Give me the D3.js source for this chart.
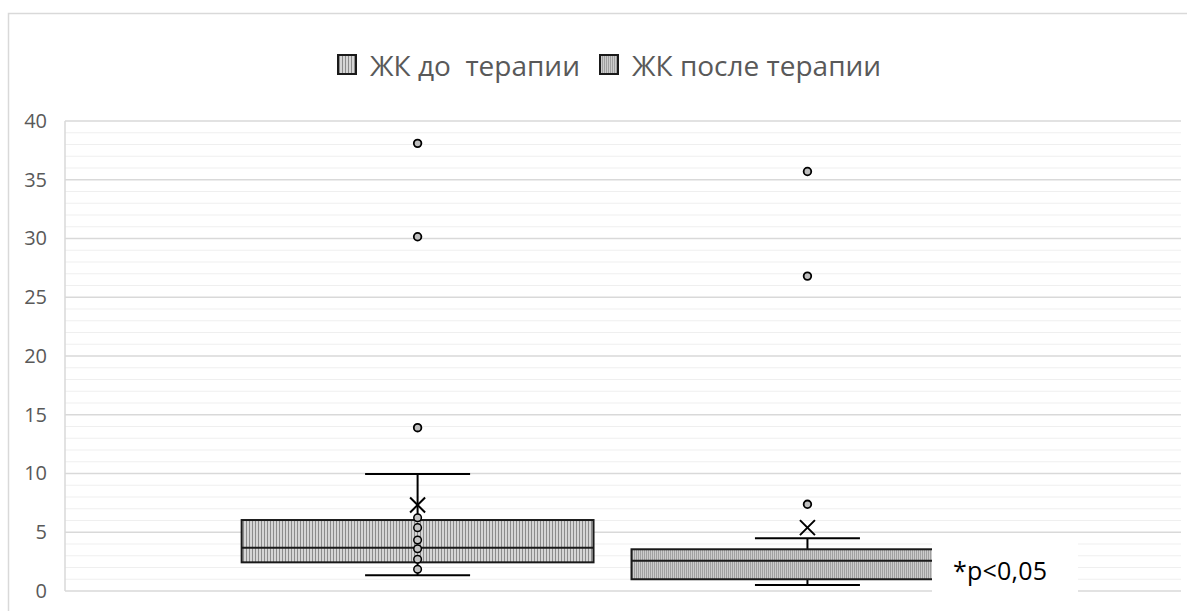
<!DOCTYPE html>
<html><head><meta charset="utf-8">
<script src="https://cdn.jsdelivr.net/npm/d3@7"></script>
<style>body{margin:0;background:#fff}svg{display:block}</style>
</head><body>
<svg id="c" width="1187" height="611"></svg>
<script>
const seriesNames = ["ЖК до  терапии", "ЖК после терапии"];
const q1Values = [2.44, 1.0];
const medianValues = [3.69, 2.58];
const q3Values = [6.04, 3.55];
const whiskerLow = [1.34, 0.51];
const whiskerHigh = [9.96, 4.49];
const meanValues = [7.32, 5.39];
const innerPoints = [[6.24, 5.39, 4.34, 3.6, 2.7, 1.85], []];
const outlierPoints = [[13.9, 30.15, 38.1], [7.38, 26.8, 35.7]];
const yTicks = [0, 5, 10, 15, 20, 25, 30, 35, 40];
const note = "*p<0,05";

const svg = d3.select("#c");
const W = 1187, H = 611;
const plot = {left: 65, right: 1181, top: 121, bottom: 591};
const y = d3.scaleLinear().domain([0, 40]).range([plot.bottom, plot.top]);
const x = d3.scaleBand().domain(seriesNames).range([plot.left, plot.right])
  .paddingInner(0.0974).paddingOuter(0.48).align(0.472);

const defs = svg.append("defs");
function stripes(id, period, bg, fg) {
  const p = defs.append("pattern").attr("id", id).attr("patternUnits", "userSpaceOnUse")
    .attr("width", period).attr("height", 10);
  p.append("rect").attr("width", period).attr("height", 10).attr("fill", bg);
  p.append("rect").attr("width", 1).attr("height", 10).attr("fill", fg);
}
stripes("pat0", 3, "#d6d6d6", "#8c8c8c");
stripes("pat1", 2, "#cccccc", "#a0a0a0");
const fills = ["url(#pat0)", "url(#pat1)"];

svg.append("path").attr("d", `M8.5,${H} L8.5,13.5 L${W},13.5`)
  .attr("fill", "none").attr("stroke", "#d9d9d9").attr("stroke-width", 1.5);

const minor = d3.range(1, 40).filter(v => v % 5 !== 0);
svg.append("g").selectAll("line").data(minor).join("line")
  .attr("x1", plot.left).attr("x2", plot.right)
  .attr("y1", d => y(d)).attr("y2", d => y(d))
  .attr("stroke", "#efefef").attr("stroke-width", 1.2);
svg.append("g").selectAll("line").data(yTicks).join("line")
  .attr("x1", plot.left).attr("x2", plot.right)
  .attr("y1", d => y(d)).attr("y2", d => y(d))
  .attr("stroke", "#d9d9d9").attr("stroke-width", 1.5);
svg.append("line").attr("x1", plot.left).attr("x2", plot.left)
  .attr("y1", plot.top).attr("y2", plot.bottom)
  .attr("stroke", "#d9d9d9").attr("stroke-width", 1.5);

const yAxis = d3.axisLeft(y).tickValues(yTicks).tickSize(0).tickPadding(18);
const gA = svg.append("g").attr("transform", `translate(${plot.left},0)`).call(yAxis);
gA.select(".domain").remove();
gA.selectAll("text").attr("font-family", "Open Sans, Noto Sans, sans-serif")
  .attr("font-size", 20).attr("fill", "#595959");

seriesNames.forEach((s, i) => {
  const g = svg.append("g");
  const x0 = x(s), bw = x.bandwidth(), cx = x0 + bw / 2;
  const capW = 105;
  g.append("line").attr("x1", cx).attr("x2", cx).attr("y1", y(q3Values[i])).attr("y2", y(whiskerHigh[i]))
    .attr("stroke", "#000").attr("stroke-width", 2);
  g.append("line").attr("x1", cx).attr("x2", cx).attr("y1", y(q1Values[i])).attr("y2", y(whiskerLow[i]))
    .attr("stroke", "#000").attr("stroke-width", 2);
  [whiskerHigh[i], whiskerLow[i]].forEach(v => {
    g.append("line").attr("x1", cx - capW / 2).attr("x2", cx + capW / 2)
      .attr("y1", y(v)).attr("y2", y(v)).attr("stroke", "#000").attr("stroke-width", 2);
  });
  g.append("rect").attr("x", x0).attr("width", bw)
    .attr("y", y(q3Values[i])).attr("height", y(q1Values[i]) - y(q3Values[i]))
    .attr("fill", fills[i]).attr("stroke", "#1a1a1a").attr("stroke-width", 2);
  g.append("line").attr("x1", x0).attr("x2", x0 + bw)
    .attr("y1", y(medianValues[i])).attr("y2", y(medianValues[i]))
    .attr("stroke", "#1a1a1a").attr("stroke-width", 2);
  const my = y(meanValues[i]), m = 7.5;
  g.append("path").attr("d", `M${cx - m},${my - m}L${cx + m},${my + m}M${cx - m},${my + m}L${cx + m},${my - m}`)
    .attr("stroke", "#000").attr("stroke-width", 2).attr("fill", "none");
  g.selectAll("circle.in").data(innerPoints[i]).join("circle").attr("class", "in")
    .attr("cx", cx).attr("cy", d => y(d)).attr("r", 3.8)
    .attr("fill", "#c4c4c4").attr("stroke", "#000").attr("stroke-width", 1.5);
  g.selectAll("circle.out").data(outlierPoints[i]).join("circle").attr("class", "out")
    .attr("cx", cx).attr("cy", d => y(d)).attr("r", 3.8)
    .attr("fill", "#bfbfbf").attr("stroke", "#000").attr("stroke-width", 1.8);
});

svg.append("rect").attr("x", 932).attr("y", 538).attr("width", 146).attr("height", 58).attr("fill", "#fff");
svg.append("text").attr("x", 953).attr("y", 580).text(note)
  .attr("font-family", "Open Sans, Noto Sans, sans-serif").attr("font-size", 25).attr("fill", "#000")
  .attr("textLength", 94);

const legend = svg.append("g").attr("font-family", "Open Sans, Noto Sans, sans-serif")
  .attr("font-size", 28).attr("fill", "#595959");
const legX = [338, 600];
seriesNames.forEach((s, i) => {
  legend.append("rect").attr("x", legX[i]).attr("y", 55).attr("width", 18).attr("height", 19)
    .attr("fill", fills[i]).attr("stroke", "#1a1a1a").attr("stroke-width", 2);
  legend.append("text").attr("x", legX[i] + 32).attr("y", 76).text(s)
    .style("white-space", "pre");
});
</script>
</body></html>
